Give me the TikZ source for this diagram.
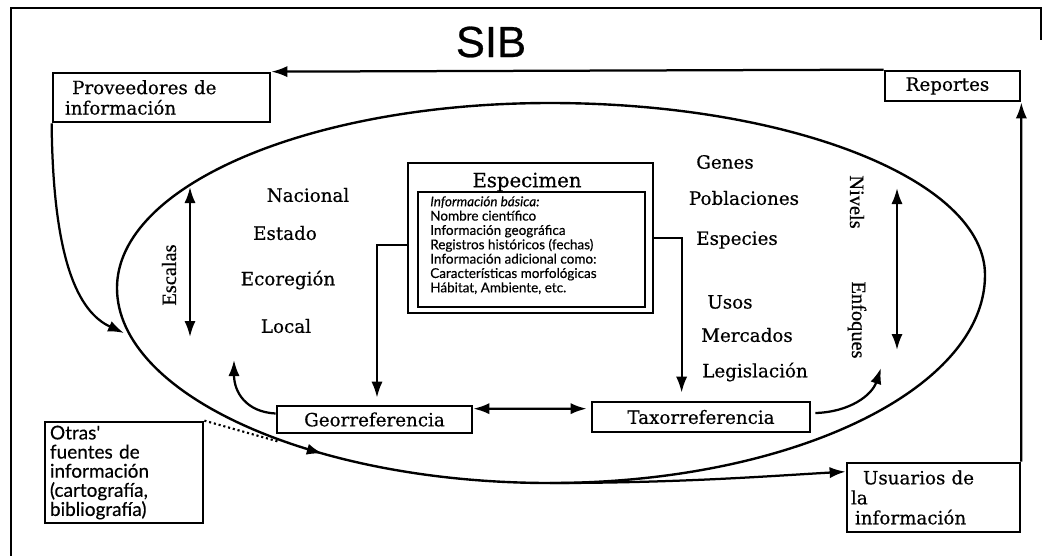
\documentclass[tikz,border=0pt]{standalone}
\usepackage{fontspec}
\setmainfont{DejaVu Serif}[FakeBold=0.5]
\newfontfamily\titlefont{Liberation Sans}[FakeBold=0.6]
\newfontfamily\narrowfont{Liberation Serif}[FakeBold=0.5]
\newfontfamily\optfont{Lato}[FakeBold=0.4]
\usetikzlibrary{calc,arrows.meta,decorations.markings}

\tikzset{
  caja/.style={draw, line width=1.9pt, inner sep=0pt},
  lbl/.style={inner sep=0pt, font=\fontsize{13}{15}\selectfont},
  rot/.style={inner sep=0pt, font=\narrowfont\fontsize{14.5}{16}\selectfont},
  flecha/.style={-{Latex[length=4mm,width=2.8mm]}, line width=1.6pt},
  dobleflecha/.style={{Latex[length=4mm,width=2.8mm]}-{Latex[length=4mm,width=2.8mm]}, line width=1.6pt},
}

\begin{document}
\begin{tikzpicture}[x=0.025cm, y=-0.025cm]
			%%%%% START %%%%%
			\useasboundingbox (0,0) rectangle (1045,555);
			
			% marco
			\draw[line width=1.9pt] (11,560) -- (11,8) -- (1041,8) -- (1041,40);
			\node[inner sep=0pt, font=\titlefont\fontsize{31}{33}\selectfont] (sib) at (491,42) {SIB};
			
			% cajas de los extremos
			\node[caja, minimum width=5.425cm, minimum height=1.225cm, text width=4.825cm, inner xsep=0.3cm, align=left, font=\fontsize{13}{14.5}\selectfont] (prov) at (161.5,97.5) {\hspace*{0.18cm}Proveedores de\\información};
			\node[caja, minimum width=3.375cm, minimum height=0.75cm, font=\fontsize{13}{15}\selectfont] (rep) at (952.5,86) {Reportes\hspace*{0.25cm}};
			\node[caja, minimum width=4.325cm, minimum height=1.725cm, text width=4.125cm, inner xsep=0.1cm, align=left, font=\fontsize{13}{14.2}\selectfont] (usu) at (933.5,497.5) {\hspace*{0.3cm}Usuarios de\\la\\\hspace*{0.1cm}información};
			\node[caja, minimum width=3.95cm, minimum height=2.525cm, text width=3.7cm, inner xsep=0.125cm, align=left, font=\optfont\fontsize{13.5}{13.6}\selectfont] (otras) at (124,472.5) {Otras'\\fuentes de\\información\\(cartografía,\\bibliografía)};
			
			% especimen
			\node[caja, minimum width=6.125cm, minimum height=3.75cm] (esp) at (530.5,238) {};
			\node[lbl, font=\fontsize{14}{16}\selectfont] (esptit) at (527,182) {Especimen};
			\node[caja, minimum width=5.675cm, minimum height=2.875cm] (espinf) at (531.5,249.5) {};
			\node[anchor=north west, inner sep=0pt, align=left, font=\optfont\fontsize{9.6}{10.2}\selectfont] (espinftxt) at (430,196) {\textit{Información básica:}\\Nombre científico\\Información geográfica\\Registros históricos (fechas)\\Información adicional como:\\Características morfológicas\\Hábitat, Ambiente, etc.};
			
			\node[caja, minimum width=4.875cm, minimum height=0.675cm, font=\fontsize{13}{15}\selectfont] (geo) at (374.5,419.5) {Georreferencia};
			\node[caja, minimum width=5.45cm, minimum height=0.75cm, font=\fontsize{13}{15}\selectfont] (taxo) at (701,417) {Taxorreferencia};
			
			% escalas
			\node[lbl] (nac) at (308,195) {Nacional};
			\node[lbl] (est) at (285,233) {Estado};
			\node[lbl] (eco) at (288,280) {Ecoregión};
			\node[lbl] (loc) at (286,326) {Local};
			\node[rot, rotate=90] (escalas) at (169,275) {Escalas};
			\coordinate (esc1) at (190,187);
			\coordinate (esc2) at (190,337);
			\draw[dobleflecha] (esc1) -- (esc2);
			
			% niveles y enfoques
			\node[lbl] (gen) at (725,162) {Genes};
			\node[lbl] (pob) at (744,198) {Poblaciones};
			\node[lbl] (espc) at (737,240) {Especies};
			\node[lbl] (usos) at (730,302) {Usos};
			\node[lbl] (merc) at (747,335) {Mercados};
			\node[lbl] (leg) at (755,372) {Legislación};
			\node[rot, rotate=-90] (niv) at (857,202) {Nivels};
			\node[rot, rotate=-90] (enf) at (857,320) {Enfoques};
			\coordinate (niv1) at (897,188);
			\coordinate (niv2) at (897,350);
			\draw[dobleflecha] (niv1) -- (niv2);
			
			% el ciclo
			\draw[line width=1.7pt] (117,288) .. controls (117,185) and (311,103) .. (550,103)
			  .. controls (790,103) and (985,180) .. (985,275)
			  .. controls (985,390) and (790,483) .. (550,483);
			\draw[line width=1.7pt, postaction={decorate}, decoration={markings, mark=at position 0.55 with {\arrow{Latex[length=4mm,width=2.8mm]}}}] (117,288) .. controls (117,394) and (311,483) .. (550,483);
			\coordinate (fin) at (550,483);
			\draw[flecha] (fin) .. controls (680,483) and (770,476) .. ($(usu.north west)+(0,10)$);
			\coordinate (entrada) at (124,333);
			\draw[flecha] (prov.south west) .. controls (53,260) and (78,312) .. (entrada);
			\coordinate (otrasfin) at (280,442);
			\draw[dotted, line width=1.5pt] (otras.north east) -- (otrasfin);
			
			% reportes
			\draw[flecha] (usu.north east) -- (rep.south east);
			\draw[flecha] (rep.north west) -- (prov.north east);
			
			% especimen a georreferencia y taxorreferencia
			\draw[flecha] ($(esp.west)+(0,7)$) -| ($(geo.north)+(2.5,-7)$);
			\draw[flecha] (esp.east) -| ($(taxo.north west)+(91,-8)$);
			\draw[dobleflecha] ($(geo.north east)+(0,4)$) -- ($(taxo.north west)+(-4,8)$);
			\coordinate (geofin) at (234,360);
			\coordinate (taxofin) at (881,368);
			\draw[flecha] ($(geo.west)+(0,-6)$) .. controls (246,412) and (234,392) .. (geofin);
			\draw[flecha] ($(taxo.east)+(4,-4)$) .. controls (850,412) and (872,395) .. (taxofin);
			
			%%%%% END %%%%%
\end{tikzpicture}
\end{document}
